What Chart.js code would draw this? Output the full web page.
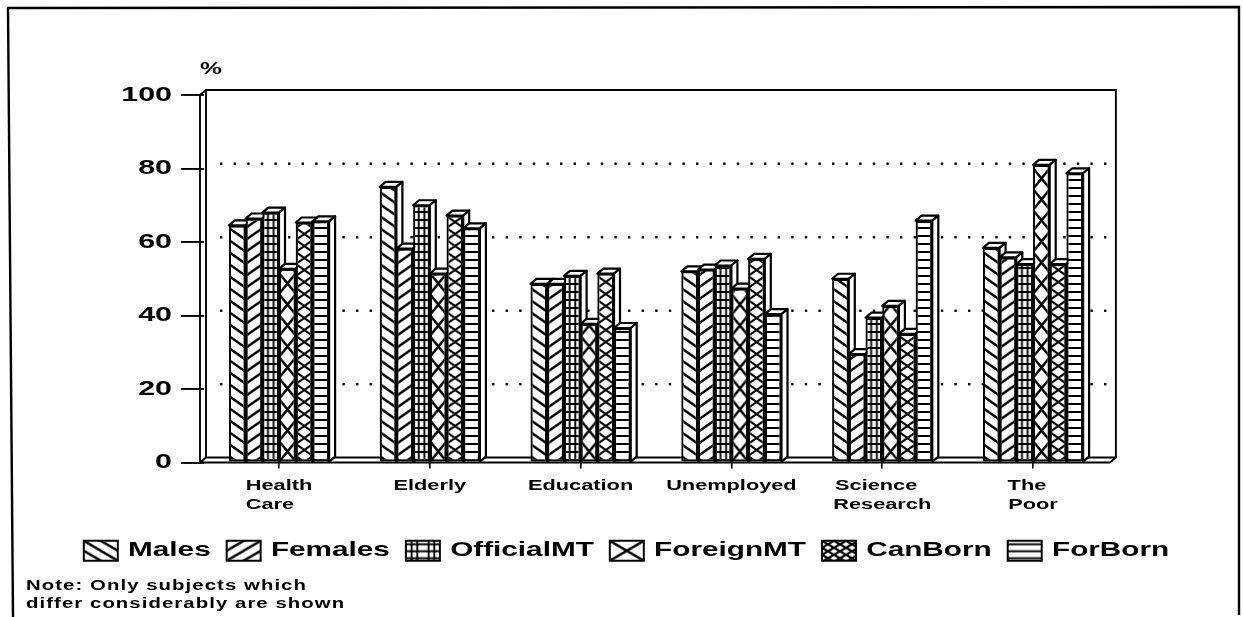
<!DOCTYPE html>
<html><head><meta charset="utf-8">
<style>html,body{margin:0;padding:0;background:#fff}canvas{display:block}</style>
<script src="https://cdn.jsdelivr.net/npm/chart.js@4"></script></head>
<body><canvas id="c" width="1243" height="617"></canvas>
<script>
const categories=[["Health","Care"],"Elderly","Education","Unemployed",["Science","Research"],["The","Poor"]];
const Males=[64.5,75,48.6,52,50,58.4];
const Females=[66.4,58.2,48.6,52.5,29.5,55.8];
const OfficialMT=[68,70,50.8,53.6,39.4,54];
const ForeignMT=[52.7,51.4,37.7,47.3,42.6,81];
const CanBorn=[65.3,67.2,51.4,55.4,35,54];
const ForBorn=[65.6,63.7,36.6,40.4,65.8,78.7];
const seriesNames=["Males","Females","OfficialMT","ForeignMT","CanBorn","ForBorn"];
const seriesValues=[Males,Females,OfficialMT,ForeignMT,CanBorn,ForBorn];
const yTicks=[0,20,40,60,80,100];
const unitLabel="%";
const noteLines=["Note: Only subjects which","differ considerably are shown"];

const INK="#000";
const STRETCH=1.45;
const BAR_W=16.7,CAT_W=150.8,CAT_PCT=BAR_W*6/CAT_W;
function tile(w,h,draw){
  const t=document.createElement('canvas');t.width=w;t.height=h;
  const g=t.getContext('2d');g.fillStyle='#fff';g.fillRect(0,0,w,h);
  g.strokeStyle=INK;g.lineCap='square';draw(g,w,h);return t;
}
const seg=(g,lw,...p)=>{g.lineWidth=lw;g.beginPath();for(let i=0;i<p.length;i+=4){g.moveTo(p[i],p[i+1]);g.lineTo(p[i+2],p[i+3]);}g.stroke();};
const painters=[
  (g,w,h)=>{seg(g,2.4,0,0,w,h, -w,0,0,h, w,0,2*w,h, 0,-h,w,0, 0,h,w,2*h);},
  (g,w,h)=>{seg(g,2.4,0,h,w,0, -w,h,0,0, w,h,2*w,0, 0,0,w,-h, 0,2*h,w,h);},
  (g,w,h)=>{seg(g,1.9,w/3,0,w/3,h, 2*w/3,0,2*w/3,h, 0,h/2,w,h/2);},
  (g,w,h)=>{seg(g,2.4,0,0,w,h, 0,h,w,0);},
  (g,w,h)=>{seg(g,2.2,0,0,w,h, 0,h,w,0);},
  (g,w,h)=>{seg(g,2,0,h/2,w,h/2);}
];
const sizes=[[17,12],[17,12],[17,8],[17,21],[17,12],[17,8]];
const tiles=painters.map((p,i)=>tile(sizes[i][0],sizes[i][1],p));
const legendTiles=[
  tile(17,10,painters[0]),tile(17,10,painters[1]),tile(17,7,painters[2]),tile(34,20,painters[3]),tile(12,7,painters[4]),tile(34,7,painters[5])
];
function stretchText(c){
  const g=c.ctx; if(g.__wide) return; g.__wide=true;
  const fill=g.fillText.bind(g),measure=g.measureText.bind(g);
  g.fillText=(t,x,y,m)=>{g.save();g.translate(x,y);g.scale(STRETCH,1);fill(t,0,0);g.restore();};
  g.measureText=t=>{const r=measure(t);return {width:r.width*STRETCH,actualBoundingBoxAscent:r.actualBoundingBoxAscent,actualBoundingBoxDescent:r.actualBoundingBoxDescent};};
}
function barFill(ctx){
  const c=ctx.chart, pat=c.ctx.createPattern(tiles[ctx.datasetIndex],'repeat');
  if(ctx.dataIndex===undefined||!c.scales.x) return pat;
  const cx=c.scales.x.getPixelForValue(ctx.dataIndex);
  const left=cx+(ctx.datasetIndex-3)*BAR_W;
  pat.setTransform(new DOMMatrix().translate(left,0));
  return pat;
}
const DX=6,DY=5;
const scene={
  id:'scene',
  beforeInit:stretchText,
  beforeDraw(c){
    const g=c.ctx,{left,right,top,bottom}=c.chartArea;
    g.save();g.fillStyle='#fff';g.fillRect(0,0,c.width,c.height);
    g.strokeStyle=INK;g.lineWidth=2.4;
    g.beginPath();g.moveTo(13,617);g.lineTo(8,8);g.lineTo(1239,7);g.lineTo(1239,615);g.stroke();
    g.lineWidth=1.9;
    const fl=left-3.6,bl=fl+DX,fr=right+1.5,br=fr+DX,bt=top-DY,bb=bottom-DY;
    g.beginPath();
    g.moveTo(fl,bottom);g.lineTo(fl,top);g.lineTo(bl,bt);g.lineTo(br,bt);g.lineTo(br,bb);g.lineTo(fr,bottom);g.lineTo(fl,bottom);
    g.moveTo(bl,bt);g.lineTo(bl,bb);g.lineTo(br,bb);
    g.moveTo(fl,bottom);g.lineTo(bl,bb);
    g.stroke();
    g.fillStyle=INK;
    yTicks.filter(v=>v>0&&v<100).forEach(v=>{
      const y=c.scales.y.getPixelForValue(v)-DY;
      for(let x=bl+14;x<br;x+=13.6) g.fillRect(x,y-1,2.4,2.4);
    });
    g.restore();
    c.legend.legendItems.forEach((it,i)=>{
      const hb=c.legend.legendHitBoxes[i],pat=g.createPattern(legendTiles[i],'repeat');
      pat.setTransform(new DOMMatrix().translate(hb.left,hb.top+(hb.height-20)/2));
      it.fillStyle=pat;
    });
  },
  beforeDatasetsDraw(c){
    const g=c.ctx;
    seriesNames.forEach((n,i)=>{
      const meta=c.getDatasetMeta(i);
      g.save();g.lineWidth=2.2;g.strokeStyle=INK;g.fillStyle='#fff';g.lineJoin='round';
      meta.data.forEach(b=>{
        const l=b.x-b.width/2,r=b.x+b.width/2,t=b.y,bt=b.base;
        g.beginPath();g.moveTo(l,t);g.lineTo(l+DX,t-DY);g.lineTo(r+DX,t-DY);g.lineTo(r,t);g.closePath();g.fill();g.stroke();
        g.beginPath();g.moveTo(r,t);g.lineTo(r+DX,t-DY);g.lineTo(r+DX,bt-DY);g.lineTo(r,bt);g.closePath();g.fill();g.stroke();
      });
      g.restore();
      meta.controller.draw();
    });
    return false;
  },
  afterDraw(c){
    const g=c.ctx;g.save();g.fillStyle=INK;g.textBaseline='alphabetic';
    g.font='bold 17px "Liberation Sans"';g.fillText(unitLabel,200,74);
    g.font='bold 14px "Liberation Sans"';g.letterSpacing='0.75px';
    noteLines.forEach((t,i)=>g.fillText(t,26,590+i*18));
    g.restore();
  }
};
new Chart(document.getElementById('c'),{
  type:'bar',
  data:{labels:categories,datasets:seriesNames.map((n,i)=>({
    label:n,data:seriesValues[i],backgroundColor:barFill,
    borderColor:INK,borderWidth:2.2,borderSkipped:false,barPercentage:1,categoryPercentage:CAT_PCT,xAxisID:'x',yAxisID:'y'
  }))},
  options:{
    responsive:false,animation:false,
    layout:{padding:{top:95,right:0,bottom:46,left:10}},
    scales:{
      x:{afterFit(s){s.height=62;},
        grid:{display:true,drawOnChartArea:false,offset:false,color:INK,tickLength:6,lineWidth:1.6},
        border:{display:false},
        ticks:{color:INK,maxRotation:0,minRotation:0,autoSkip:false,padding:8,
          callback(v){const l=this.getLabelForValue(v);if(!Array.isArray(l))return l;const m=Math.max(...l.map(s=>s.length));
            return l.map(s=>s.length<m?s+' '.repeat(m-s.length+1):s);},
          font:{family:'"Liberation Sans"',size:15,weight:'bold',lineHeight:1.27}}},
      y:{min:0,max:100,afterFit(s){s.width=193.6;},afterBuildTicks(s){s.ticks=yTicks.map(v=>({value:v}));},
        grid:{drawOnChartArea:false,color:INK,tickLength:22.6,lineWidth:1.9},
        border:{display:false},
        ticks:{color:INK,padding:9,font:{family:'"Liberation Sans"',size:21,weight:'bold'}}},
      spacer:{position:'right',display:true,afterFit(s){s.width=134.6;},grid:{display:false},border:{display:false},ticks:{display:false}}
    },
    plugins:{
      tooltip:{enabled:false},
      legend:{position:'bottom',align:'center',labels:{
        color:INK,boxWidth:34,boxHeight:20,padding:16,
        font:{family:'"Liberation Sans"',size:20.5,weight:'bold'},
        generateLabels:c=>seriesNames.map((n,i)=>({text:n,datasetIndex:i,lineWidth:2,strokeStyle:INK,fontColor:INK,
          fillStyle:'#fff'}))
      }}
    }
  },
  plugins:[scene]
});
</script></body></html>
